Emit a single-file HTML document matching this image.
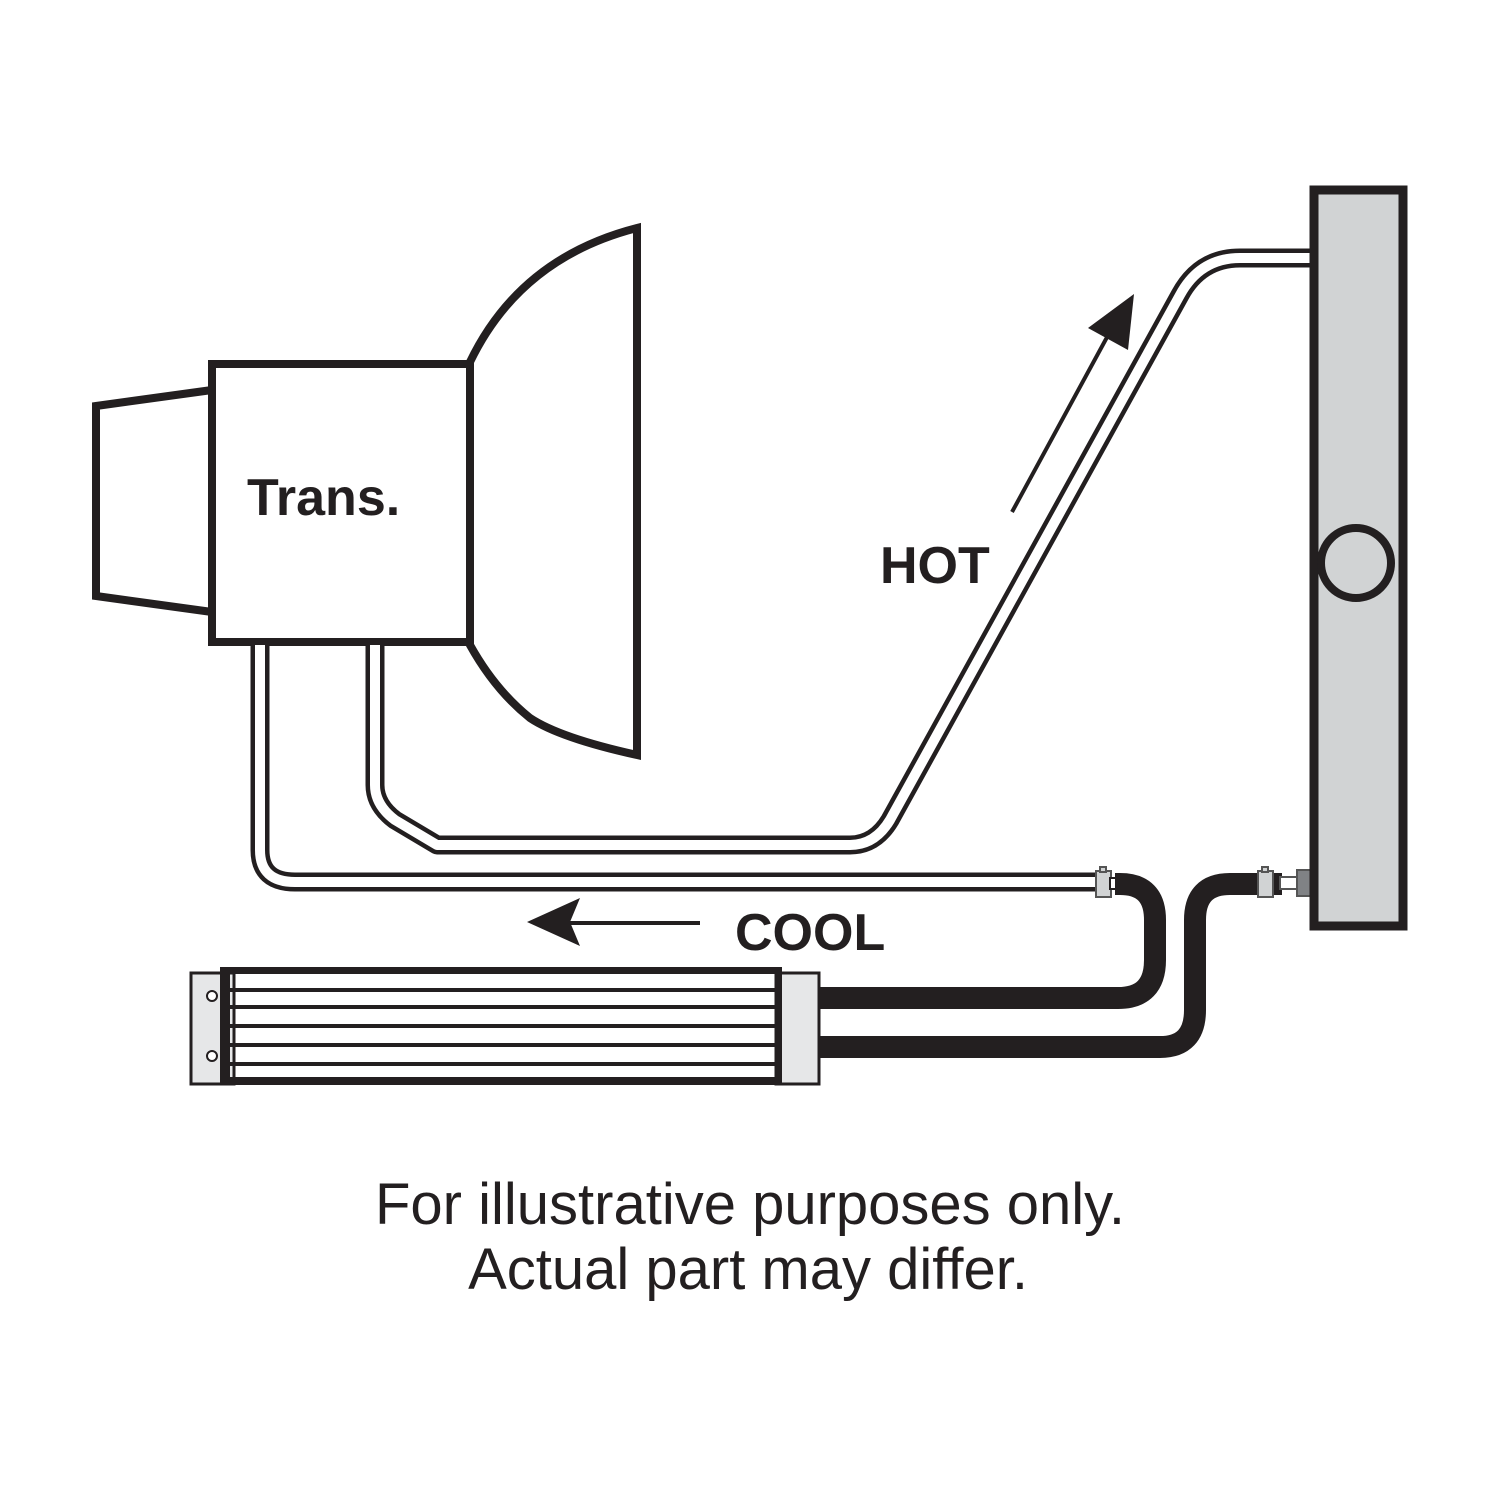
<!DOCTYPE html>
<html><head><style>html,body{margin:0;padding:0;background:#fff}svg{display:block}</style></head>
<body>
<svg width="1500" height="1500" viewBox="0 0 1500 1500" xmlns="http://www.w3.org/2000/svg">
<rect width="1500" height="1500" fill="#fff"/>
<polygon points="96,406 212,390 212,612 96,596" fill="#fff" stroke="#231f20" stroke-width="8"/>
<path d="M470,362 Q520,258 637,228 L637,755 Q560,738 530,718 Q495,690 470,645 Z" fill="#fff" stroke="#231f20" stroke-width="8"/>
<rect x="212" y="364" width="258" height="278" fill="#fff" stroke="#231f20" stroke-width="8"/>
<text x="247" y="515" font-family="Liberation Sans, sans-serif" font-weight="bold" font-size="52" fill="#231f20">Trans.</text>
<g fill="none" stroke-linejoin="round">
<path d="M260,645 L260,850 Q260,882 295,882 L1100,882" stroke="#231f20" stroke-width="19"/>
<path d="M260,645 L260,850 Q260,882 295,882 L1100,882" stroke="#fff" stroke-width="10"/>
<path d="M375,645 L375,785 Q375,805 395,820 L437,845 L850,845 Q875,845 890,820 L1180,295 Q1200,258 1240,258 L1314,258" stroke="#231f20" stroke-width="19"/>
<path d="M375,645 L375,785 Q375,805 395,820 L437,845 L850,845 Q875,845 890,820 L1180,295 Q1200,258 1240,258 L1314,258" stroke="#fff" stroke-width="10"/>
<path d="M1115,884 L1120,884 Q1155,884 1155,920 L1155,960 Q1155,998 1118,998 L808,998" stroke="#231f20" stroke-width="22"/>
<path d="M1282,884 L1230,884 Q1195,884 1195,920 L1195,1010 Q1195,1047 1160,1047 L808,1047" stroke="#231f20" stroke-width="22"/>
</g>
<g fill="#d1d3d4" stroke="#555" stroke-width="2">
<rect x="1096" y="871" width="15" height="26"/><rect x="1100" y="867" width="6" height="5"/>
<rect x="1258" y="871" width="15" height="26"/><rect x="1262" y="867" width="6" height="5"/>
<rect x="786" y="985" width="13" height="26"/><rect x="790" y="981" width="5" height="5"/>
<rect x="786" y="1033" width="13" height="26"/><rect x="790" y="1029" width="5" height="5"/>
</g>
<rect x="1110" y="878" width="6" height="11" fill="#fff" stroke="#231f20" stroke-width="2"/>
<rect x="1280" y="877" width="17" height="12" fill="#fff" stroke="#555" stroke-width="2"/>
<rect x="1297" y="870" width="14" height="26" fill="#808285" stroke="#555" stroke-width="2"/>
<rect x="1314" y="190" width="89" height="736" fill="#d1d3d4" stroke="#231f20" stroke-width="9"/>
<circle cx="1356" cy="563" r="35" fill="#d1d3d4" stroke="#231f20" stroke-width="8"/>
<rect x="191" y="973" width="43" height="111" fill="#e6e7e8" stroke="#231f20" stroke-width="3"/>
<rect x="776" y="973" width="43" height="111" fill="#e6e7e8" stroke="#231f20" stroke-width="3"/>
<circle cx="212" cy="996" r="5" fill="#fff" stroke="#231f20" stroke-width="2"/>
<circle cx="212" cy="1056" r="5" fill="#fff" stroke="#231f20" stroke-width="2"/>
<rect x="220" y="967" width="10" height="118" fill="#231f20"/>
<rect x="775" y="967" width="7" height="118" fill="#231f20"/>
<rect x="230" y="967" width="548" height="7" fill="#231f20"/>
<rect x="230" y="1077" width="548" height="8" fill="#231f20"/>
<g fill="#231f20">
<rect x="230" y="988" width="548" height="4"/>
<rect x="230" y="1005" width="548" height="4"/>
<rect x="230" y="1024" width="548" height="4"/>
<rect x="230" y="1043" width="548" height="4"/>
<rect x="230" y="1062" width="548" height="4"/>
</g>
<line x1="1012" y1="512" x2="1112" y2="328" stroke="#231f20" stroke-width="4"/>
<polygon points="1134,294 1128,350 1088,328" fill="#231f20"/>
<line x1="700" y1="923" x2="565" y2="923" stroke="#231f20" stroke-width="4"/>
<polygon points="527,922 580,898 570,922 580,946" fill="#231f20"/>
<text x="880" y="583" font-family="Liberation Sans, sans-serif" font-weight="bold" font-size="52" fill="#231f20">HOT</text>
<text x="735" y="950" font-family="Liberation Sans, sans-serif" font-weight="bold" font-size="52" fill="#231f20">COOL</text>
<g font-family="Liberation Sans, sans-serif" font-size="58" fill="#231f20" text-anchor="middle">
<text x="750" y="1224">For illustrative purposes only.</text>
<text x="748" y="1289">Actual part may differ.</text>
</g>
</svg>
</body></html>
